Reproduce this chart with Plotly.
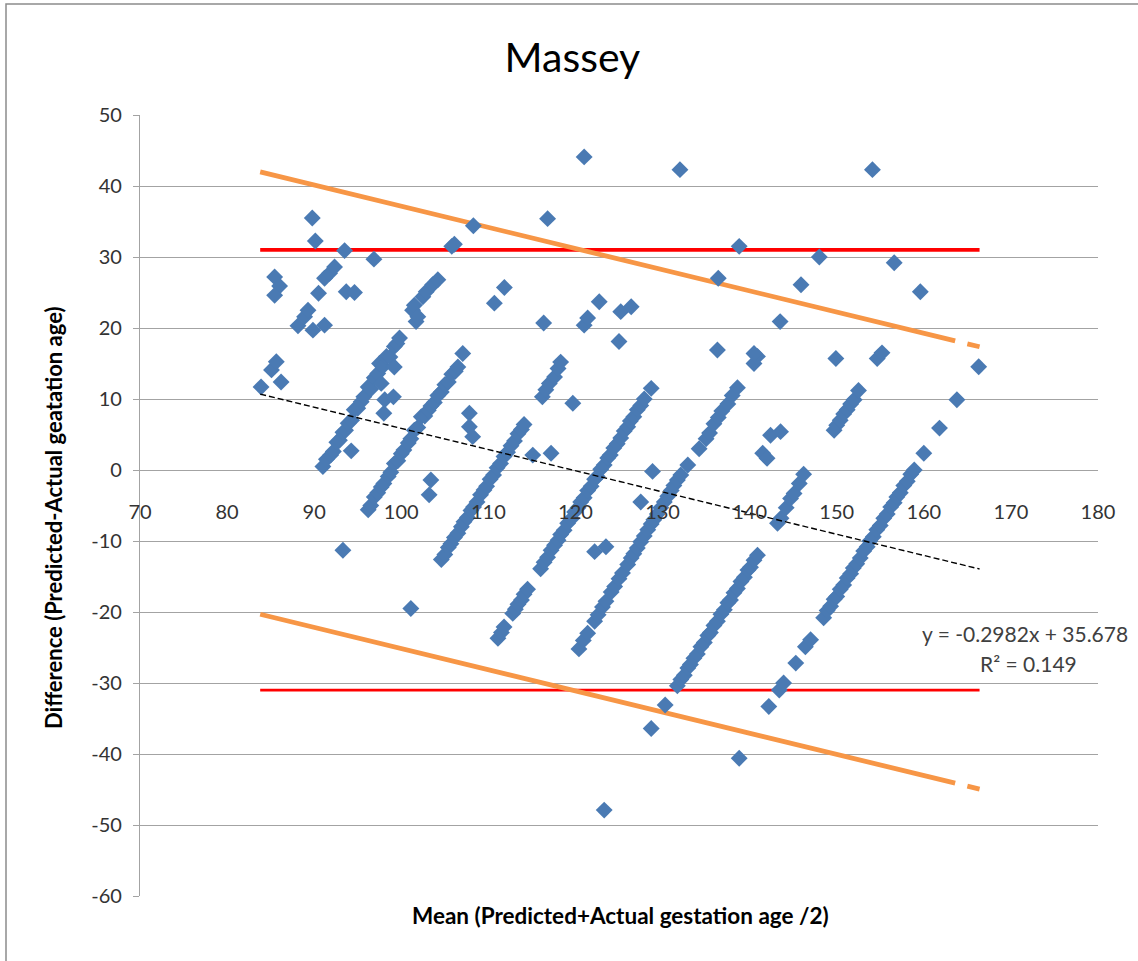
import plotly.graph_objects as go

# ---------------- data ----------------
# band A
ax = [91.0, 91.4, 91.9, 92.2, 92.6, 92.9, 93.3, 93.6, 93.9, 94.3, 94.6, 95.0, 95.4, 95.7, 96.2, 96.5,
      96.9, 97.3, 97.5, 97.9, 98.3, 98.7, 99.2, 99.5, 99.8]
ay = [0.5, 1.5, 2.1, 2.6, 3.9, 4.2, 5.3, 5.6, 6.6, 7.0, 8.5, 8.7, 9.6, 10.3, 11.7, 11.4,
      13.0, 13.6, 15.0, 14.6, 16.0, 15.9, 17.4, 17.8, 18.6]
# band B
bx = [96.2, 96.5, 96.9, 97.3, 97.7, 98.0, 98.5, 98.8, 99.2, 99.6, 100.0, 100.3, 100.8, 101.1, 101.5,
      101.9, 102.3, 102.7, 103.1, 103.4, 103.8, 104.2, 104.6, 105.0, 105.4, 105.8, 106.2, 106.5]
by = [-5.6, -5.0, -3.8, -3.2, -2.4, -1.9, -0.9, -0.3, 0.9, 1.3, 2.3, 2.8, 3.8, 4.4, 5.6,
      6.0, 7.5, 7.6, 8.4, 9.0, 9.5, 10.5, 11.0, 12.0, 12.4, 13.5, 13.9, 14.5]
# band C
cx = [104.6, 105.0, 105.4, 105.7, 106.1, 106.5, 106.9, 107.2, 107.6, 108.0, 108.3, 108.7, 109.1, 109.5,
      109.8, 110.2, 110.6, 111.0, 111.4, 111.8, 112.2, 112.6, 113.0, 113.4, 113.8, 114.1, 116.2, 116.6,
      117.0, 117.6, 118.0, 118.3]
cy = [-12.6, -11.9, -10.9, -10.4, -9.5, -8.9, -8.0, -7.3, -6.7, -5.7, -5.2, -4.5, -3.5, -2.8,
      -2.3, -1.3, -0.7, 0.3, 0.9, 1.9, 2.5, 3.4, 4.1, 5.1, 5.7, 6.4, 10.3, 11.3,
      12.2, 13.1, 14.3, 15.2]
# band D
dx = [111.1, 111.5, 111.8, 112.8, 113.1, 113.4, 113.8, 114.1, 114.5, 116.0, 116.4, 116.8, 117.2, 117.6,
      118.0, 118.3, 118.7, 119.1, 119.5, 119.9, 120.3, 120.6, 121.0, 121.4, 121.8, 122.2, 122.5, 122.9,
      123.3, 123.7, 124.0, 124.4, 124.8, 125.2, 125.6, 126.0, 126.3, 126.7, 127.1, 127.5, 127.9, 128.7]
dy = [-23.7, -22.9, -22.1, -20.2, -19.6, -18.9, -18.3, -17.5, -16.8, -13.9, -13.0, -12.3, -11.3, -10.6,
      -9.9, -9.1, -8.5, -7.5, -6.9, -5.9, -5.3, -4.5, -3.9, -2.9, -2.3, -1.3, -0.9, 0.1,
      0.7, 1.7, 2.1, 3.1, 3.7, 4.5, 5.5, 6.1, 6.9, 7.5, 8.5, 9.1, 10.0, 11.5]
# band E
ex = [120.4, 120.9, 121.4, 122.2, 122.6, 123.1, 123.5, 124.1, 124.5, 125.0, 125.4, 126.0, 126.4, 126.7,
      127.1, 127.5, 127.9, 128.3, 128.7, 129.0, 129.4, 129.8, 130.2, 130.6, 131.0, 131.3, 131.7, 132.1,
      132.9, 134.2, 135.0, 135.4, 135.9, 136.4, 136.8, 137.5, 138.0, 138.6]
ey = [-25.2, -24.0, -23.0, -21.3, -20.4, -19.3, -18.5, -17.2, -16.4, -15.3, -14.5, -13.3, -12.4, -11.8,
      -11.0, -10.1, -9.3, -8.4, -7.6, -7.0, -6.2, -5.3, -4.5, -3.7, -2.9, -2.2, -1.4, -0.7,
      0.7, 3.0, 4.4, 5.2, 6.5, 7.4, 8.3, 9.3, 10.5, 11.6]
# band F
fx = [131.7, 132.1, 132.5, 132.9, 133.2, 133.6, 134.0, 134.4, 134.8, 135.2, 135.5, 135.9, 136.3, 136.7,
      137.1, 137.5, 137.8, 138.2, 138.6, 139.0, 139.4, 139.8, 140.1, 140.5, 140.9, 143.2, 143.6, 144.2,
      144.7, 145.1, 145.7, 146.2, 149.7, 150.0, 150.4, 150.8, 151.2, 151.6, 152.0, 152.5]
fy = [-30.4, -29.5, -28.9, -27.9, -27.4, -26.5, -25.9, -24.9, -24.3, -23.3, -22.9, -21.9, -21.3, -20.3,
      -19.7, -18.7, -18.3, -17.3, -16.7, -15.7, -15.1, -14.1, -13.7, -12.7, -12.0, -7.5, -6.8, -5.3,
      -4.0, -3.3, -1.9, -0.6, 5.6, 6.3, 7.0, 7.9, 8.5, 9.3, 9.9, 11.2]
# band G
gx = [142.2, 143.4, 143.9, 145.3, 146.4, 147.0, 148.5, 148.9, 149.3, 149.7, 150.0, 150.4, 150.8, 151.2,
      151.6, 151.9, 152.3, 152.7, 153.1, 153.5, 153.8, 154.2, 154.6, 155.0, 155.4, 155.8, 156.2, 156.6,
      156.9, 157.3, 157.7, 158.1, 158.5, 158.9, 160.0, 161.8, 163.8, 166.3]
gy = [-33.3, -31.0, -30.0, -27.2, -24.9, -23.9, -20.8, -19.8, -19.2, -18.2, -17.8, -16.8, -16.2, -15.2,
      -14.6, -13.8, -13.2, -12.4, -11.4, -10.8, -10.0, -9.4, -8.4, -7.8, -6.8, -6.2, -5.2, -4.6,
      -3.8, -3.2, -2.2, -1.6, -0.6, 0.0, 2.35, 5.9, 9.9, 14.55]
# scattered points
sx = [83.9, 85.1, 85.65, 86.2, 85.46, 86.03, 85.46, 88.14, 88.9, 89.29, 89.86, 91.19, 89.78, 90.13,
      90.5, 91.19, 91.77, 92.34, 93.49, 93.68, 94.63, 96.86, 94.25, 93.3, 97.7, 98.0, 98.1, 99.1, 99.2,
      101.3, 101.5, 101.7, 101.9, 102.48, 102.86, 103.6, 104.2, 105.8, 106.1, 108.28, 107.06, 107.82,
      107.82, 108.2, 103.4, 103.2, 101.1, 110.69, 111.84, 116.8, 116.35, 115.1, 117.2, 119.7, 121.0,
      121.0, 121.4, 122.73, 125.2, 126.4, 125.0, 122.2, 123.5, 127.5, 128.85, 130.3, 128.7, 123.3,
      132.0, 138.8, 136.4, 136.3, 140.5, 140.9, 140.5, 141.5, 142.0, 142.4, 143.55, 143.5, 145.9,
      148.0, 149.9, 154.1, 154.65, 155.2, 156.6, 159.6, 138.8]
sy = [11.7, 14.1, 15.25, 12.4, 27.2, 25.9, 24.6, 20.3, 21.6, 22.5, 19.7, 20.4, 35.5, 32.25,
      24.9, 27.0, 27.7, 28.6, 30.9, 25.1, 25.0, 29.7, 2.7, -11.3, 12.2, 8.0, 9.9, 10.3, 14.5,
      22.5, 23.2, 20.9, 21.6, 24.4, 25.1, 26.1, 26.8, 31.5, 31.8, 34.4, 16.4, 8.0,
      6.1, 4.7, -1.4, -3.5, -19.5, 23.5, 25.7, 35.4, 20.7, 2.1, 2.35, 9.4, 44.1,
      20.4, 21.4, 23.7, 22.3, 23.0, 18.1, -11.5, -10.8, -4.5, -0.2, -33.1, -36.4, -47.9,
      42.3, 31.5, 27.0, 16.9, 15.0, 16.0, 16.4, 2.35, 1.65, 4.9, 5.4, 20.9, 26.1,
      30.0, 15.7, 42.3, 15.7, 16.5, 29.2, 25.1, -40.6]

# regression and limit-of-agreement parameters (from the chart)
slope = -0.2982
intercept = 35.678
loa_upper_offset = 31.3
loa_lower_offset = -31.0
red_limit = 31.0
mean_min = 83.8
mean_max = 166.4
orange_gap = [163.6, 165.0]
eq_text = "y = -0.2982x + 35.678"
r2_text = "R² = 0.149"

x_ticks = [70, 80, 90, 100, 110, 120, 130, 140, 150, 160, 170, 180]
y_ticks = [50, 40, 30, 20, 10, 0, -10, -20, -30, -40, -50, -60]

# ---------------- figure ----------------
pts_x = ax + bx + cx + dx + ex + fx + gx + sx
pts_y = ay + by + cy + dy + ey + fy + gy + sy

def trend(x, off=0.0):
    return None if x is None else slope * x + intercept + off

fig = go.Figure()

# red limits
for val, w in [(red_limit, 3.8), (-red_limit, 2.6)]:
    fig.add_trace(go.Scatter(x=[mean_min, mean_max], y=[val, val], mode="lines",
                             line=dict(color="#FF0000", width=w), hoverinfo="skip"))

# orange limits (with short gap near the end)
ox = [mean_min, orange_gap[0], None, orange_gap[1], mean_max]
for off in (loa_upper_offset, loa_lower_offset):
    fig.add_trace(go.Scatter(x=ox, y=[trend(v, off) for v in ox], mode="lines",
                             line=dict(color="#F79646", width=4.8), connectgaps=False,
                             hoverinfo="skip"))

# points
fig.add_trace(go.Scatter(x=pts_x, y=pts_y, mode="markers",
                         marker=dict(symbol="diamond", size=13, color="#4A7AB3",
                                     line=dict(width=0))))

# black dashed trend line
fig.add_trace(go.Scatter(x=[mean_min, mean_max], y=[trend(mean_min), trend(mean_max)],
                         mode="lines", line=dict(color="#000000", width=1.4, dash="6px,3px"),
                         hoverinfo="skip"))

grid = "#A3A3A3"
fig.update_layout(
    width=1138, height=961,
    margin=dict(l=140, r=40, t=115, b=65),
    paper_bgcolor="white", plot_bgcolor="white",
    showlegend=False,
    font=dict(family="Lato, sans-serif", color="#333333"),
    title=dict(text="Massey", x=0.503, xanchor="center", xref="container",
               y=0.94, yanchor="middle", yref="container",
               font=dict(size=41, color="#000000", family="Lato, sans-serif")),
    xaxis=dict(range=[70, 180], tickvals=x_ticks, ticktext=[str(v) for v in x_ticks],
               anchor="free", position=60 / 110, showgrid=False, zeroline=False,
               showline=False, ticks="", tickfont=dict(size=20, color="#333333"),
               ticklabelstandoff=28),
    yaxis=dict(range=[-60, 50], tickvals=y_ticks, ticktext=[str(v) for v in y_ticks],
               showgrid=True, gridcolor=grid, gridwidth=1.3, zeroline=False,
               showline=True, linecolor=grid, linewidth=1.3, ticks="outside", ticklen=6,
               tickcolor=grid, tickwidth=1.3, tickfont=dict(size=20, color="#333333"),
               ticklabelstandoff=7),
)

fig.add_annotation(text="<b>Mean (Predicted+Actual gestation age /2)</b>", xref="paper", yref="paper",
                   x=(620 - 140) / 958, y=(896 - 916) / 781, xanchor="center", yanchor="middle",
                   showarrow=False, font=dict(size=22.5, color="#000000"))
fig.add_annotation(text="<b>Difference (Predicted-Actual geatation age)</b>", xref="paper", yref="paper",
                   x=(53 - 140) / 958, y=(896 - 518) / 781, xanchor="center", yanchor="middle",
                   textangle=-90, showarrow=False, font=dict(size=22, color="#000000"))
fig.add_annotation(text=eq_text, xref="x", yref="y", x=171.6, y=-23.0, xanchor="center",
                   yanchor="middle", showarrow=False, font=dict(size=21, color="#404040"))
fig.add_annotation(text=r2_text, xref="x", yref="y", x=172.0, y=-27.3, xanchor="center",
                   yanchor="middle", showarrow=False, font=dict(size=21, color="#404040"))

# outer chart border
fig.add_shape(type="rect", xref="paper", yref="paper",
              x0=(6 - 140) / 958, x1=(1150 - 140) / 958, y0=(896 - 975) / 781, y1=(896 - 4) / 781,
              line=dict(color="#8C8C8C", width=1.5), fillcolor="rgba(0,0,0,0)", layer="below")

fig.write_html("out.html", config={"displayModeBar": False},
               post_script="document.body.style.margin='0';")
